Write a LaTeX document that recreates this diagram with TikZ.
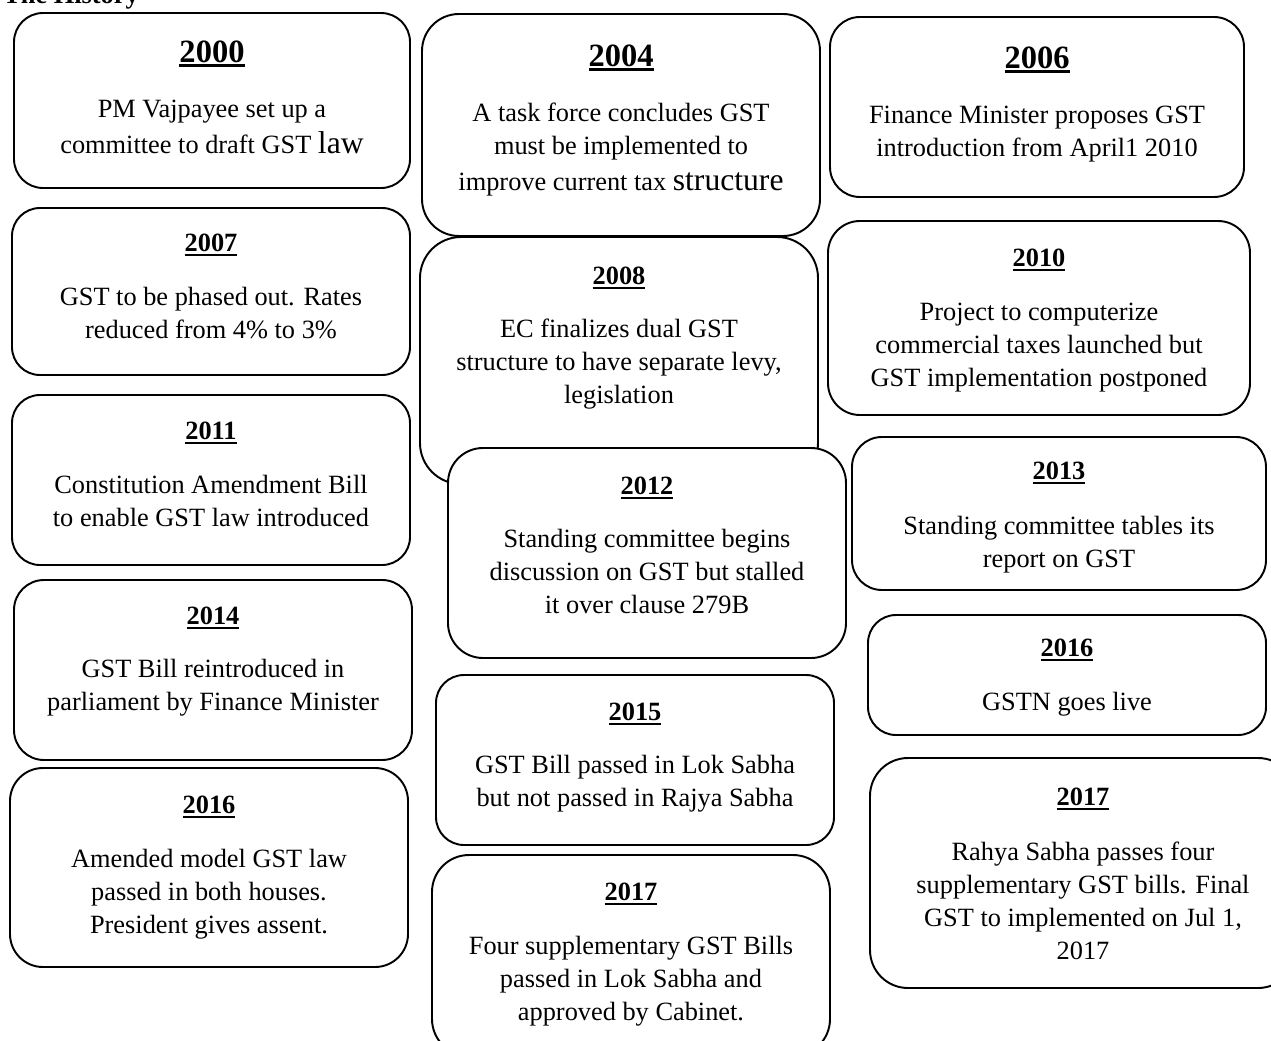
\documentclass[tikz,border=0pt]{standalone}
\usepackage{fontspec}
\setmainfont{Liberation Serif}
\newcommand{\yearul}[1]{\setbox0\hbox{#1}\rlap{\rule[-2.4pt]{\wd0}{1.4pt}}\box0}

\begin{document}
\begin{tikzpicture}[x=0.02cm, y=-0.02cm,
    box/.style={draw, fill=white, line width=1.1pt},
    yr/.style={anchor=base, inner sep=0pt, font=\bfseries\fontsize{15}{18.8}\selectfont},
    bigyr/.style={anchor=base, inner sep=0pt, font=\bfseries\fontsize{18.5}{22}\selectfont},
    note/.style={align=center, inner sep=0pt, font=\fontsize{15}{18.8}\selectfont}]
    \useasboundingbox (0,0) rectangle (1271,1041);
    \node[anchor=base west, inner sep=0pt, font=\bfseries\fontsize{15}{18.8}\selectfont] (head) at (3,4) {The History};

    % left column
    \draw[box, rounded corners=0.58cm] (14,13) rectangle (410,188);
    \node[bigyr] (y2000) at (212,62.7) {\yearul{2000}};
    \node[note] (n2000) at (212,129) {\strut PM Vajpayee set up a\\[1.6pt] \strut committee to draft GST {\fontsize{18}{18.8}\selectfont law}};

    \draw[box, rounded corners=0.56cm] (12,208) rectangle (410,375);
    \node[yr] (y2007) at (211,251.8) {\yearul{2007}};
    \node[note] (n2007) at (211,315) {\strut GST to be phased out. Rates\\ \strut reduced from 4\% to 3\%};

    \draw[box, rounded corners=0.56cm] (12,395) rectangle (410,565);
    \node[yr] (y2011) at (211,439.8) {\yearul{2011}};
    \node[note] (n2011) at (211,503) {\strut Constitution Amendment Bill\\ \strut to enable GST law introduced};

    \draw[box, rounded corners=0.6cm] (14,580) rectangle (412,760);
    \node[yr] (y2014) at (213,624.8) {\yearul{2014}};
    \node[note] (n2014) at (213,687) {\strut GST Bill reintroduced in\\ \strut parliament by Finance Minister};

    \draw[box, rounded corners=0.66cm] (10,768) rectangle (408,967);
    \node[yr] (y2016a) at (209,813.8) {\yearul{2016}};
    \node[note] (n2016a) at (209,894) {\strut Amended model GST law\\ \strut passed in both houses.\\ \strut President gives assent.};

    % middle column
    \draw[box, rounded corners=0.74cm] (422,14) rectangle (820,236);
    \node[bigyr] (y2004) at (621,66.7) {\yearul{2004}};
    \node[note] (n2004) at (621,149) {\strut A task force concludes GST\\ \strut must be implemented to\\[1.6pt] \strut improve current tax {\fontsize{18}{18.8}\selectfont structure}};

    \draw[box, rounded corners=0.82cm] (420,237) rectangle (818,484);
    \node[yr] (y2008) at (619,284.8) {\yearul{2008}};
    \node[note] (n2008) at (619,364) {\strut EC finalizes dual GST\\ \strut structure to have separate levy,\\ \strut legislation};

    \draw[box, rounded corners=0.7cm] (448,448) rectangle (846,658);
    \node[yr] (y2012) at (647,494.8) {\yearul{2012}};
    \node[note] (n2012) at (647,574) {\strut Standing committee begins\\ \strut discussion on GST but stalled\\ \strut it over clause 279B};

    \draw[box, rounded corners=0.56cm] (436,675) rectangle (834,845);
    \node[yr] (y2015) at (635,720.8) {\yearul{2015}};
    \node[note] (n2015) at (635,783) {\strut GST Bill passed in Lok Sabha\\ \strut but not passed in Rajya Sabha};

    \draw[box, rounded corners=0.74cm] (432,855) rectangle (830,1056);
    \node[yr] (y2017a) at (631,900.8) {\yearul{2017}};
    \node[note] (n2017a) at (631,981) {\strut Four supplementary GST Bills\\ \strut passed in Lok Sabha and\\ \strut approved by Cabinet.};

    % right column
    \draw[box, rounded corners=0.6cm] (830,17) rectangle (1244,197);
    \node[bigyr] (y2006) at (1037,68.7) {\yearul{2006}};
    \node[note] (n2006) at (1037,133) {\strut Finance Minister proposes GST\\ \strut introduction from April1 2010};

    \draw[box, rounded corners=0.64cm] (828,221) rectangle (1250,415);
    \node[yr] (y2010) at (1039,266.8) {\yearul{2010}};
    \node[note] (n2010) at (1039,347) {\strut Project to computerize\\ \strut commercial taxes launched but\\ \strut GST implementation postponed};

    \draw[box, rounded corners=0.6cm] (852,437) rectangle (1266,590);
    \node[yr] (y2013) at (1059,479.8) {\yearul{2013}};
    \node[note] (n2013) at (1059,544) {\strut Standing committee tables its\\ \strut report on GST};

    \draw[box, rounded corners=0.56cm] (868,615) rectangle (1266,735);
    \node[yr] (y2016b) at (1067,656.8) {\yearul{2016}};
    \node[note] (n2016b) at (1067,704) {\strut GSTN goes live};

    \draw[box, rounded corners=0.76cm] (870,758) rectangle (1296,988);
    \node[yr] (y2017b) at (1083,805.8) {\yearul{2017}};
    \node[note] (n2017b) at (1083,903) {\strut Rahya Sabha passes four\\ \strut supplementary GST bills. Final\\ \strut GST to implemented on Jul 1,\\ \strut 2017};
\end{tikzpicture}
\end{document}
